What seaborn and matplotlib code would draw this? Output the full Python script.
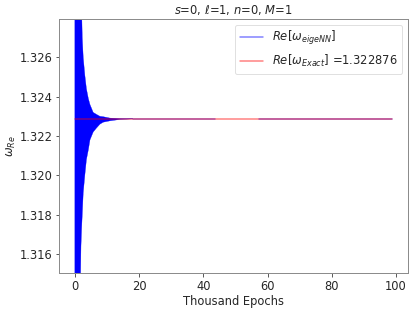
import numpy as np
import pandas as pd
import matplotlib
matplotlib.use("Agg")
import matplotlib.pyplot as plt
import seaborn as sns

# ---- data ----
exact_value = 1.322876
# oscillation envelope of the eigeNN estimate (thousand epochs)
env_epochs = [0.0, 1.6, 1.9, 2.1, 2.3, 2.6, 3.1, 3.6, 4.2, 4.7, 5.2, 5.7, 6.7, 7.8, 8.8, 10.9, 14.0, 18.0]
env_upper = [1.3300, 1.3300, 1.3300, 1.3285, 1.3270, 1.3260, 1.3251, 1.3244, 1.3239,
             1.3236, 1.3234, 1.3232, 1.3231, 1.3230, 1.32298, 1.32291, 1.32289, 1.32288]
env_lower = [1.3130, 1.3130, 1.3164, 1.3173, 1.3180, 1.3191, 1.3200, 1.3208, 1.3213,
             1.3218, 1.3220, 1.3222, 1.3224, 1.3226, 1.3227, 1.32277, 1.32284, 1.32287]
# converged eigeNN line segments (gap in the middle)
seg1_epochs = [18.0, 43.5]
seg1_values = [1.32288, 1.32288]
seg2_epochs = [57.2, 98.8]
seg2_values = [1.32288, 1.32288]
# exact line
exact_epochs = [0.0, 98.8]
exact_values = [exact_value, exact_value]

yticks = [1.316, 1.318, 1.320, 1.322, 1.324, 1.326]
xticks = [0, 20, 40, 60, 80, 100]

# ---- style ----
sns.set_style("white")
plt.rcParams['font.family'] = ['DejaVu Sans']
plt.rcParams['font.size'] = 11.5
plt.rcParams['xtick.bottom'] = True
plt.rcParams['ytick.left'] = True
plt.rcParams['mathtext.fontset'] = 'dejavusans'

fig = plt.figure(figsize=(414 / 72, 311 / 72), dpi=72)
ax = fig.add_axes([59 / 414, 1 - 273 / 311, (408 - 59) / 414, (273 - 19) / 311])

blue = (0, 0, 1)
red = (1, 0, 0)

ax.fill_between(env_epochs, env_lower, env_upper, color=blue, linewidth=0.3,
                edgecolor=blue)
df1 = pd.DataFrame({"epoch": seg1_epochs, "value": seg1_values})
df2 = pd.DataFrame({"epoch": seg2_epochs, "value": seg2_values})
dfe = pd.DataFrame({"epoch": exact_epochs, "value": exact_values})
sns.lineplot(data=df1, x="epoch", y="value", color=blue, alpha=0.5, lw=1.5,
             ax=ax, label=r"$Re[\omega_{eigeNN}]$")
sns.lineplot(data=df2, x="epoch", y="value", color=blue, alpha=0.5, lw=1.5, ax=ax)
sns.lineplot(data=dfe, x="epoch", y="value", color=red, alpha=0.5, lw=1.5,
             ax=ax, label=r"$Re[\omega_{Exact}]$ =1.322876")

ax.set_ylim(1.31503, 1.32795)
ax.set_xlim(-4.94, 103.7)
ax.set_yticks(yticks)
ax.set_yticklabels([f"{v:.3f}" for v in yticks])
ax.set_xticks(xticks)
ax.set_xticklabels([str(v) for v in xticks])
ax.tick_params(length=3.5, width=0.8, color='0.2', pad=3)
for s in ax.spines.values():
    s.set_color('0.55')
    s.set_linewidth(1.0)

ax.set_xlabel("Thousand Epochs", labelpad=2)
ax.set_ylabel(r"$\omega_{Re}$", labelpad=2)
ax.set_title(r"$s$=0, $\ell$=1, $n$=0, $M$=1", fontsize=11.5, pad=5)
leg = ax.legend(loc="upper right", frameon=True)
leg.get_frame().set_edgecolor('0.85')

fig.savefig("out.png", dpi=72)
